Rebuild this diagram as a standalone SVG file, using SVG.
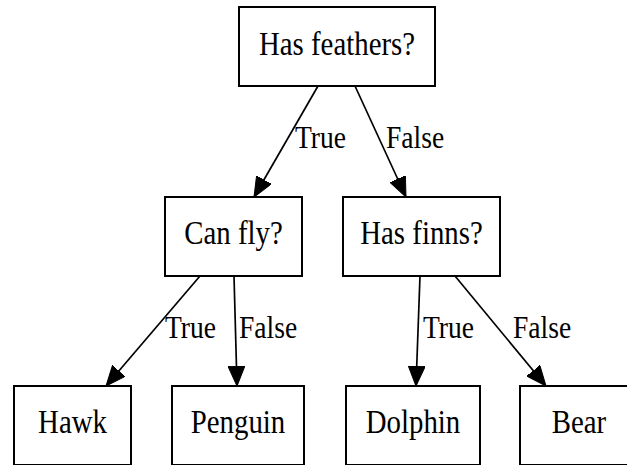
<svg xmlns="http://www.w3.org/2000/svg" width="627" height="465" viewBox="0 0 627 465">
<defs>
<style>
.box{fill:#fff;stroke:#000;stroke-width:2}
.nt{font-family:"Liberation Serif","Times New Roman",serif;font-size:28px;text-anchor:middle;fill:#000}
.et{font-family:"Liberation Serif","Times New Roman",serif;font-size:27px;fill:#000}
.edge{stroke:#000;stroke-width:1.7;fill:none;marker-end:url(#ah)}
</style>
<marker id="ah" viewBox="0 0 20 17" refX="20" refY="8.5" markerWidth="20" markerHeight="17" markerUnits="userSpaceOnUse" orient="auto">
<path d="M0,0 L20,8.5 L0,17 Z" fill="#000" stroke="#000" stroke-width="1"/>
</marker>
</defs>
<rect width="627" height="465" fill="#fff"/>
<g id="connectors">
<line class="edge" x1="318" y1="86" x2="254" y2="197"/>
<line class="edge" x1="355" y1="86" x2="406" y2="197"/>
<line class="edge" x1="200" y1="276" x2="106" y2="386"/>
<line class="edge" x1="234" y1="276" x2="237" y2="386"/>
<line class="edge" x1="420" y1="276" x2="416" y2="386"/>
<line class="edge" x1="455" y1="276" x2="546" y2="386"/>
<text class="et" transform="translate(295,148) scale(1.02,1.18)">True</text>
<text class="et" transform="translate(386,148) scale(1.02,1.18)">False</text>
<text class="et" transform="translate(165,338) scale(1.02,1.18)">True</text>
<text class="et" transform="translate(239,338) scale(1.02,1.18)">False</text>
<text class="et" transform="translate(423,338) scale(1.02,1.18)">True</text>
<text class="et" transform="translate(513,338) scale(1.02,1.18)">False</text>
</g>
<g id="n_feathers"><rect class="box" x="239" y="7" width="196" height="79"/><text class="nt" transform="translate(337,55) scale(1.03,1.18)">Has feathers?</text></g>
<g id="n_canfly"><rect class="box" x="165" y="197" width="137" height="79"/><text class="nt" transform="translate(233.5,244) scale(1.03,1.18)">Can fly?</text></g>
<g id="n_finns"><rect class="box" x="343" y="197" width="157" height="79"/><text class="nt" transform="translate(421.5,244) scale(1.03,1.18)">Has finns?</text></g>
<g id="n_hawk"><rect class="box" x="14" y="386" width="117" height="79"/><text class="nt" transform="translate(72.5,433) scale(1.03,1.18)">Hawk</text></g>
<g id="n_penguin"><rect class="box" x="172" y="386" width="132" height="79"/><text class="nt" transform="translate(238,433) scale(1.03,1.18)">Penguin</text></g>
<g id="n_dolphin"><rect class="box" x="346" y="386" width="134" height="79"/><text class="nt" transform="translate(413,433) scale(1.03,1.18)">Dolphin</text></g>
<g id="n_bear"><rect class="box" x="520" y="386" width="108" height="79"/><text class="nt" transform="translate(579,433) scale(1.03,1.18)">Bear</text></g>
</svg>
